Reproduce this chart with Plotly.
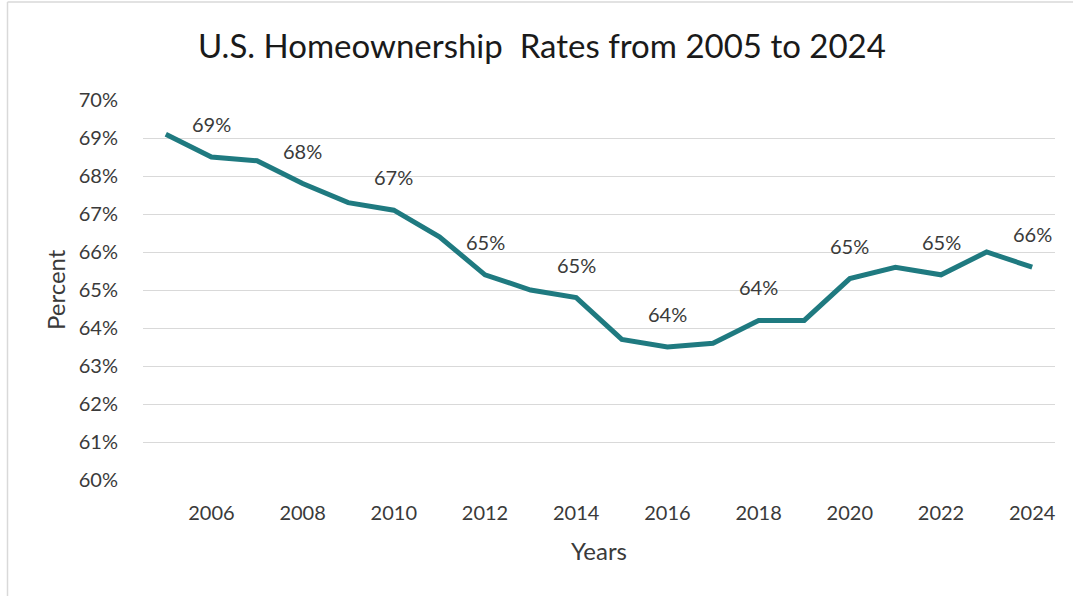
import plotly.graph_objects as go

# U.S. homeownership rate by year (percent)
years = list(range(2005, 2025))
rate = [69.1, 68.5, 68.4, 67.8, 67.3, 67.1, 66.4, 65.4, 65.0, 64.8,
        63.7, 63.5, 63.6, 64.2, 64.2, 65.3, 65.6, 65.4, 66.0, 65.6]

tick_years = list(range(2006, 2025, 2))
y_ticks = list(range(60, 71))

title_text = "U.S. Homeownership  Rates from 2005 to 2024"
FONT = "Lato"
TEXT = "#3a3a3a"
LINE = "#1f7a80"
GRID = "#d9d9d9"

W, H = 1073, 596
L, R, T, B = 143, 18, 100, 116


def px_x(px):
    return (px - L) / (W - L - R)


def px_y(py):
    return (H - B - py) / (H - T - B)


fig = go.Figure()
fig.add_trace(go.Scatter(
    x=years, y=rate, mode="lines",
    line=dict(color=LINE, width=5),
    hoverinfo="x+y", showlegend=False,
))

# rounded value labels on even years, Excel-style half-up rounding
annotations = []
for yr, v in zip(years, rate):
    if yr % 2 == 0:
        annotations.append(dict(
            x=yr, y=v, xref="x", yref="y", text=f"{int(v + 0.5)}%",
            showarrow=False, yshift=33, yanchor="middle",
            font=dict(family=FONT, size=20, color=TEXT),
        ))

annotations.append(dict(
    x=px_x(599), y=px_y(550), xref="paper", yref="paper", text="Years",
    showarrow=False, xanchor="center", yanchor="middle",
    font=dict(family=FONT, size=24, color=TEXT),
))
annotations.append(dict(
    x=px_x(55), y=px_y(290), xref="paper", yref="paper", text="Percent",
    showarrow=False, textangle=-90, xanchor="center", yanchor="middle",
    font=dict(family=FONT, size=24, color=TEXT),
))
annotations.append(dict(
    x=px_x(542), y=px_y(45), xref="paper", yref="paper", text=title_text,
    showarrow=False, xanchor="center", yanchor="middle",
    font=dict(family=FONT, size=33, color="#1a1a1a"),
))

# chart-area frame
shapes = [
    dict(type="line", xref="paper", yref="paper",
         x0=px_x(7.5), x1=px_x(1080), y0=px_y(2), y1=px_y(2),
         line=dict(color=GRID, width=1.5)),
    dict(type="line", xref="paper", yref="paper",
         x0=px_x(7.5), x1=px_x(7.5), y0=px_y(2), y1=px_y(600),
         line=dict(color=GRID, width=1.5)),
]

fig.update_layout(
    width=W, height=H,
    margin=dict(l=L, r=R, t=T, b=B),
    paper_bgcolor="white", plot_bgcolor="white",
    annotations=annotations, shapes=shapes,
    showlegend=False,
)
fig.update_xaxes(
    range=[2004.5, 2024.5], tickmode="array", tickvals=tick_years,
    ticktext=[str(y) for y in tick_years],
    showgrid=False, zeroline=False, showline=False,
    ticks="outside", ticklen=15, tickcolor="rgba(0,0,0,0)",
    tickfont=dict(family=FONT, size=20, color=TEXT),
)
fig.update_yaxes(
    range=[60, 70], tickmode="array", tickvals=y_ticks,
    ticktext=[f"{v}%" for v in y_ticks],
    showgrid=True, gridcolor=GRID, gridwidth=1, zeroline=False, showline=False,
    ticks="outside", ticklen=20, tickcolor="rgba(0,0,0,0)",
    tickfont=dict(family=FONT, size=20, color=TEXT),
)

fig.write_html("out.html")
